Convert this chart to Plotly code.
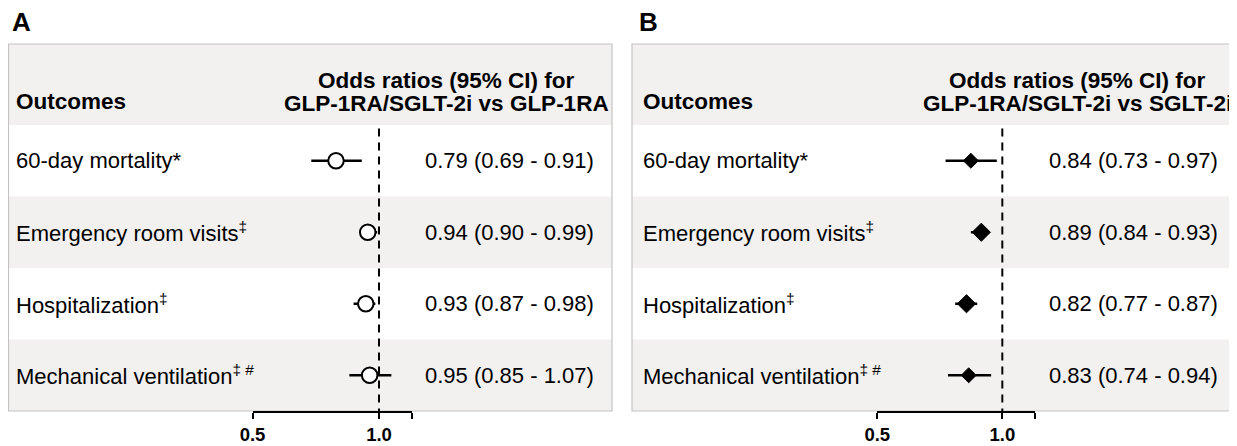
import plotly.graph_objects as go
import numpy as np

W, H = 1237, 446

# ---------------- data ----------------
outcomes = [
    "60-day mortality*",
    "Emergency room visits<sup>‡</sup>",
    "Hospitalization<sup>‡</sup>",
    "Mechanical ventilation<sup>‡ #</sup>",
]
or_a = [0.79, 0.94, 0.93, 0.95]
lo_a = [0.69, 0.90, 0.87, 0.85]
hi_a = [0.91, 0.99, 0.98, 1.07]

or_b = [0.84, 0.89, 0.82, 0.83]
lo_b = [0.73, 0.84, 0.77, 0.74]
hi_b = [0.97, 0.93, 0.87, 0.94]

tick_vals = [0.5, 1.0, 1.2]
tick_text = ["0.5", "1.0", ""]
x_limits = [0.5, 1.2]
ref_value = 1.0

header_a = ["Odds ratios (95% CI) for", "GLP-1RA/SGLT-2i vs GLP-1RA"]
header_b = ["Odds ratios (95% CI) for", "GLP-1RA/SGLT-2i vs SGLT-2i"]

# ---------------- style ----------------
FONT = "Liberation Sans, Arial, sans-serif"
GRAY = "#F2F1F0"
BORDER = "#C4C4C4"
BODY = 22
HEAD = 22.5
OX, OY = 8, 8   # page body margin compensation

def px(x):
    return (x - OX) / W

def py(y):
    return 1 - (y - OY) / H

rows = list(range(1, len(outcomes) + 1))

def fmt(o, l, h):
    return [f"{a:.2f} ({b:.2f} - {c:.2f})" for a, b, c in zip(o, l, h)]

fig = go.Figure()

# Panel A
fig.add_trace(go.Scatter(
    x=or_a, y=rows, xaxis="x", yaxis="y", mode="markers",
    marker=dict(symbol="circle", size=15.5, color="white", opacity=1,
                line=dict(color="black", width=2)),
    error_x=dict(type="data", symmetric=False,
                 array=list(np.array(hi_a) - np.array(or_a)),
                 arrayminus=list(np.array(or_a) - np.array(lo_a)),
                 width=0, thickness=2.5, color="black"),
    showlegend=False, hoverinfo="skip"))

# Panel B
fig.add_trace(go.Scatter(
    x=or_b, y=rows, xaxis="x2", yaxis="y", mode="markers",
    marker=dict(symbol="diamond", size=[11.5, 14, 14, 11.5], color="#000000", opacity=1,
                line=dict(color="#000000", width=1)),
    error_x=dict(type="data", symmetric=False,
                 array=list(np.array(hi_b) - np.array(or_b)),
                 arrayminus=list(np.array(or_b) - np.array(lo_b)),
                 width=0, thickness=2.5, color="black"),
    showlegend=False, hoverinfo="skip"))

shapes = []
annotations = []

panels = [
    dict(left=8.5, right=612, xref="x", label_x=14, val_x=423, head_cx=446,
         title="A", title_x=11, header=header_a, vals=fmt(or_a, lo_a, hi_a)),
    dict(left=632, right=1245, xref="x2", label_x=641, val_x=1047, head_cx=1077,
         title="B", title_x=638, header=header_b, vals=fmt(or_b, lo_b, hi_b)),
]

TOP, HEAD_BOT, BOT = 44, 125, 411
row_h = (BOT - HEAD_BOT) / len(rows)

for p in panels:
    shapes.append(dict(type="rect", xref="paper", yref="paper",
                       x0=px(p["left"]), x1=px(p["right"]), y0=py(HEAD_BOT), y1=py(TOP),
                       fillcolor=GRAY, line=dict(width=0), layer="below"))
    for i in range(len(rows)):
        y0 = HEAD_BOT + i * row_h
        shapes.append(dict(type="rect", xref="paper", yref="paper",
                           x0=px(p["left"]), x1=px(p["right"]), y0=py(y0 + row_h), y1=py(y0),
                           fillcolor=("white" if i % 2 == 0 else GRAY),
                           line=dict(width=0), layer="below"))
    shapes.append(dict(type="rect", xref="paper", yref="paper",
                       x0=px(p["left"]), x1=px(p["right"]), y0=py(BOT), y1=py(TOP),
                       fillcolor="rgba(0,0,0,0)", line=dict(color=BORDER, width=1.2),
                       layer="below"))
    shapes.append(dict(type="line", xref=p["xref"], yref="y",
                       x0=ref_value, x1=ref_value, y0=0.55, y1=len(rows) + 0.5,
                       line=dict(color="black", width=2, dash="8px,6px"), layer="below"))
    annotations.append(dict(x=px(p["title_x"]), y=py(22), xref="paper", yref="paper",
                            text=f"<b>{p['title']}</b>", showarrow=False,
                            xanchor="left", yanchor="middle", borderpad=0, height=28,
                            font=dict(family=FONT, size=26, color="black")))
    annotations.append(dict(x=px(p["label_x"]), y=py(101), xref="paper", yref="paper",
                            text="<b>Outcomes</b>", showarrow=False,
                            xanchor="left", yanchor="middle",
                            font=dict(family=FONT, size=HEAD, color="black")))
    for k, line in enumerate(p["header"]):
        annotations.append(dict(x=px(p["head_cx"]), y=py(80 + 24 * k), xref="paper", yref="paper",
                                text=f"<b>{line}</b>", showarrow=False,
                                xanchor="center", yanchor="middle",
                                font=dict(family=FONT, size=HEAD, color="black")))
    for r, lab, v in zip(rows, outcomes, p["vals"]):
        annotations.append(dict(x=px(p["label_x"]), y=r, xref="paper", yref="y",
                                text=lab, showarrow=False, xanchor="left", yanchor="middle",
                                font=dict(family=FONT, size=BODY, color="black")))
        annotations.append(dict(x=px(p["val_x"]), y=r, xref="paper", yref="y",
                                text=v, showarrow=False, xanchor="left", yanchor="middle",
                                font=dict(family=FONT, size=BODY, color="black")))

axis_common = dict(
    type="log", range=[np.log10(x_limits[0]), np.log10(x_limits[1])],
    showline=True, linewidth=2, linecolor="black",
    ticks="outside", ticklen=6, tickwidth=2, tickcolor="black",
    tickmode="array", tickvals=tick_vals, ticktext=tick_text,
    tickfont=dict(family=FONT, size=18.5, color="black", weight="bold"),
    showgrid=False, zeroline=False, fixedrange=True, anchor="y",
    automargin=False,
)

fig.update_layout(
    template="none",
    width=W, height=H,
    margin=dict(l=0, r=0, t=0, b=0, pad=0, autoexpand=False),
    paper_bgcolor="white", plot_bgcolor="rgba(0,0,0,0)",
    xaxis=dict(domain=[px(252.5), px(412.3)], **axis_common),
    xaxis2=dict(domain=[px(877.3), px(1035.2)], **axis_common),
    yaxis=dict(domain=[py(BOT), py(HEAD_BOT)], range=[len(rows) + 0.5, 0.5],
               visible=False, fixedrange=True, automargin=False),
    shapes=shapes, annotations=annotations,
    showlegend=False,
)

fig.write_html("out.html")
